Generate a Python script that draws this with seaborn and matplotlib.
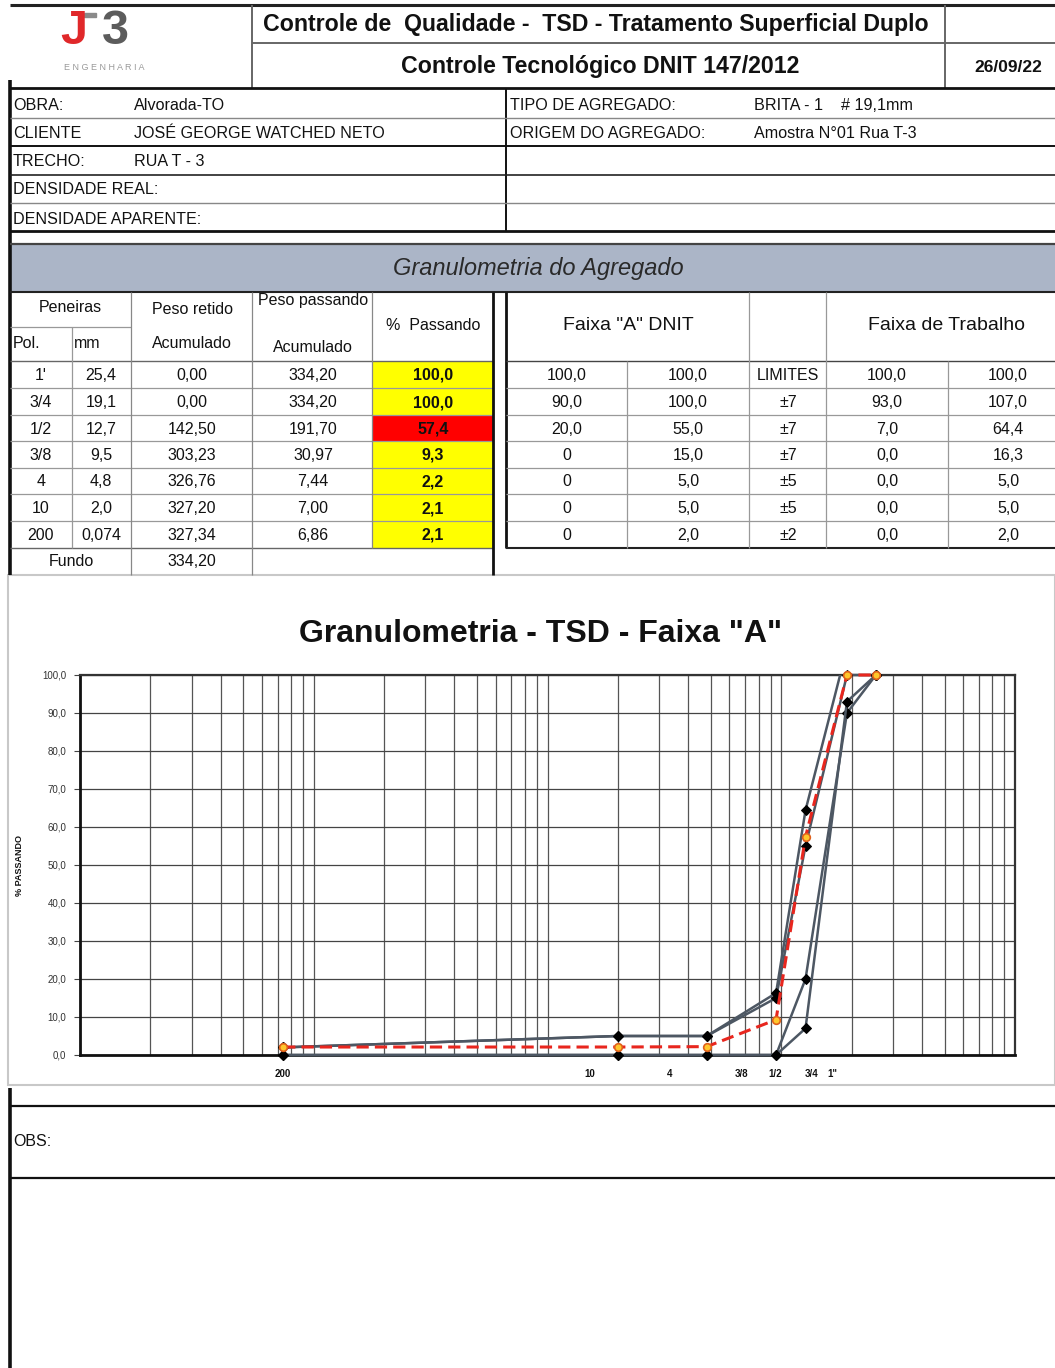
import numpy as np
import pandas as pd
import matplotlib
matplotlib.use("Agg")
import matplotlib.pyplot as plt
import seaborn as sns
from matplotlib.ticker import LogLocator, NullFormatter, FixedLocator, FixedFormatter
from matplotlib.patches import Rectangle

# ---------------- data ----------------
sieve_pol = ["1'", "3/4", "1/2", "3/8", "4", "10", "200"]
sieve_mm = [25.4, 19.1, 12.7, 9.5, 4.8, 2.0, 0.074]
sieve_mm_txt = ["25,4", "19,1", "12,7", "9,5", "4,8", "2,0", "0,074"]
peso_retido = [0.00, 0.00, 142.50, 303.23, 326.76, 327.20, 327.34]
peso_passando = [334.20, 334.20, 191.70, 30.97, 7.44, 7.00, 6.86]
pct_passando = [100.0, 100.0, 57.4, 9.3, 2.2, 2.1, 2.1]
fundo_retido = 334.20
faixa_a_min = [100.0, 90.0, 20.0, 0, 0, 0, 0]
faixa_a_max = [100.0, 100.0, 55.0, 15.0, 5.0, 5.0, 2.0]
limites = ["LIMITES", "±7", "±7", "±7", "±5", "±5", "±2"]
trab_min = [100.0, 93.0, 7.0, 0.0, 0.0, 0.0, 0.0]
trab_max = [100.0, 107.0, 64.4, 16.3, 5.0, 5.0, 2.0]
out_of_range = [False, False, True, False, False, False, False]

axis_label_pos = [0.074, 1.52, 3.34, 6.73, 9.4, 13.5, 16.5]
axis_label_txt = ["200", "10", "4", "3/8", "1/2", "3/4", '1"']
y_ticks = [0, 10, 20, 30, 40, 50, 60, 70, 80, 90, 100]

info_left = [("OBRA:", "Alvorada-TO"), ("CLIENTE", "JOSÉ GEORGE WATCHED NETO"),
             ("TRECHO:", "RUA T - 3"), ("DENSIDADE REAL:", ""), ("DENSIDADE APARENTE:", "")]
info_right = [("TIPO DE AGREGADO:", "BRITA - 1    # 19,1mm"),
              ("ORIGEM DO AGREGADO:", "Amostra N°01 Rua T-3")]


def br(v, d):
    return f"{v:.{d}f}".replace(".", ",")


def br0(v):
    return "0" if v == 0 else br(v, 1)


# ---------------- style ----------------
sns.set_theme(style="white")
plt.rcParams["font.family"] = ["Liberation Sans", "DejaVu Sans"]

W, H = 1055, 1368
fig = plt.figure(figsize=(W / 100, H / 100), dpi=100)
fig.patch.set_facecolor("white")
bg = fig.add_axes([0, 0, 1, 1], zorder=0)
bg.set_xlim(0, W)
bg.set_ylim(H, 0)
bg.axis("off")

TC = "#111111"


def hl(y, x0, x1, c="#777777", lw=1.0):
    bg.plot([x0, x1], [y, y], color=c, lw=lw, solid_capstyle="butt")


def vl(x, y0, y1, c="#777777", lw=1.0):
    bg.plot([x, x], [y0, y1], color=c, lw=lw, solid_capstyle="butt")


def tx(x, y, s, ha="left", size=11.5, **kw):
    kw.setdefault("color", TC)
    bg.text(x, y, s, ha=ha, va="center", fontsize=size, **kw)


# ---------------- header ----------------
hl(5, 10, W, "#222222", 2.2)
vl(252, 5, 88, "#666666", 1.4)
hl(43, 252, W, "#666666", 1.4)
vl(945, 5, 88, "#666666", 1.4)
hl(88, 10, W, "#111111", 2.0)
vl(10, 80, 575, "#111111", 2.6)
vl(10, 1088, H, "#111111", 2.6)

# logo
tx(60, 32, "J", size=35, weight="bold", color="#e0282a")
tx(102, 32, "3", size=35, weight="bold", color="#5c5c5c")
bg.add_patch(Rectangle((84, 13), 12, 4, color="#8a8a8a"))
tx(104, 67, "E N G E N H A R I A", ha="center", size=6.5, color="#9a9a9a")

tx(263, 24, "Controle de  Qualidade -  TSD - Tratamento Superficial Duplo", size=16.7, weight="bold")
tx(600, 66, "Controle Tecnológico DNIT 147/2012", ha="center", size=16.7, weight="bold")
tx(1008, 67, "26/09/22", ha="center", size=12.5, weight="bold")

# ---------------- info block ----------------
vl(506, 88, 231, "#111111", 1.4)
hl(118, 10, W, "#888888", 1.0)
hl(146, 10, W, "#111111", 1.4)
hl(175, 10, W, "#222222", 1.2)
hl(203, 10, W, "#888888", 1.0)
hl(231, 10, W, "#111111", 2.0)
row_y = [105, 133, 162, 190, 219]
for (lab, val), y in zip(info_left, row_y):
    tx(13, y, lab, size=11.6)
    if val:
        tx(134, y, val, size=11.6)
for (lab, val), y in zip(info_right, row_y):
    tx(510, y, lab, size=11.6)
    tx(754, y, val, size=11.6)

# ---------------- band ----------------
bg.add_patch(Rectangle((10, 244), W - 10, 48, facecolor="#abb5c7", edgecolor="none"))
hl(244, 10, W, "#444444", 1.6)
tx(538, 268, "Granulometria do Agregado", ha="center", size=17, style="italic", color="#2a2a2a")

# ---------------- tables ----------------
bounds = [361, 388, 415, 441, 468, 494, 521, 548]
centers = [(a + b) / 2 + 1 for a, b in zip(bounds[:-1], bounds[1:])]

# left table fills
for i, y0 in enumerate(bounds[:-1]):
    col = "#ff0000" if out_of_range[i] else "#ffff00"
    bg.add_patch(Rectangle((372, y0), 121, bounds[i + 1] - y0, facecolor=col, edgecolor="none"))

hl(292, 10, W, "#222222", 1.5)
hl(327, 10, 131, "#999999", 0.9)
hl(361, 10, 493, "#666666", 1.0)
for y in bounds[1:-1]:
    hl(y, 10, 493, "#999999", 0.9)
hl(548, 10, 493, "#666666", 1.0)
vl(72, 327, 548, "#999999", 0.9)
for x in (131, 252):
    vl(x, 292, 575, "#888888", 0.9)
vl(372, 292, 548, "#888888", 0.9)
vl(493, 292, 575, "#111111", 2.0)

tx(70, 307, "Peneiras", ha="center")
tx(13, 343, "Pol.")
tx(74, 343, "mm")
tx(192, 309, "Peso retido", ha="center")
tx(192, 343, "Acumulado", ha="center")
tx(313, 301, "Peso passando", ha="center")
tx(313, 348, "Acumulado", ha="center")
tx(433, 325, "%  Passando", ha="center")

for i, y in enumerate(centers):
    tx(41, y, sieve_pol[i], ha="center")
    tx(101, y, sieve_mm_txt[i], ha="center")
    tx(192, y, br(peso_retido[i], 2), ha="center")
    tx(313, y, br(peso_passando[i], 2), ha="center")
    tx(433, y, br(pct_passando[i], 1), ha="center", weight="bold")
tx(71, 562, "Fundo", ha="center")
tx(192, 562, br(fundo_retido, 2), ha="center")

# right table
vl(506, 292, 548, "#111111", 2.0)
hl(361, 506, W, "#444444", 1.0)
for y in bounds[1:-1]:
    hl(y, 506, W, "#999999", 0.9)
hl(548, 506, W, "#222222", 1.5)
vl(627, 361, 548, "#999999", 0.9)
vl(749, 292, 548, "#999999", 0.9)
vl(826, 292, 548, "#999999", 0.9)
vl(948, 361, 548, "#999999", 0.9)
tx(628, 326, 'Faixa "A" DNIT', ha="center", size=14)
tx(947, 326, "Faixa de Trabalho", ha="center", size=14)
for i, y in enumerate(centers):
    tx(567, y, br0(faixa_a_min[i]), ha="center")
    tx(688, y, br(faixa_a_max[i], 1), ha="center")
    tx(788, y, limites[i], ha="center")
    tx(887, y, br(trab_min[i], 1), ha="center")
    tx(1008, y, br(trab_max[i], 1), ha="center")

# chart frame + bottom
bg.add_patch(Rectangle((8, 575), W - 8, 510, facecolor="none", edgecolor="#c8c8c8", lw=1.5))
tx(541, 634, 'Granulometria - TSD - Faixa "A"', ha="center", size=23, weight="bold")
bg.text(20, 865, "% PASSANDO", rotation=90, ha="center", va="center", fontsize=6.5,
        weight="bold", color=TC)
hl(1106, 10, W, "#111111", 1.6)
tx(13, 1141, "OBS:", size=11.5)
hl(1178, 10, W, "#111111", 1.6)

# ---------------- chart ----------------
ax = fig.add_axes([80 / W, 1 - 1055 / H, 935 / W, 380 / H], zorder=2)
ax.set_facecolor("white")
ax.set_xscale("log")
ax.set_xlim(0.01, 100)
ax.set_ylim(0, 100)

band_series = [faixa_a_min, faixa_a_max, trab_min, trab_max]
for vals in band_series:
    clip = max(vals) > 100
    sns.lineplot(x=sieve_mm, y=vals, ax=ax, color="#4d5763", linewidth=1.8,
                 marker="D", markersize=5, markerfacecolor="black", markeredgecolor="black",
                 clip_on=clip, zorder=3)
sns.lineplot(x=sieve_mm, y=pct_passando, ax=ax, color="#e8261e", linewidth=2.2,
             linestyle=(0, (4, 2)), marker="o", markersize=5.5,
             markerfacecolor="#ffc72c", markeredgecolor="#e0601a", markeredgewidth=1.2,
             clip_on=False, zorder=4)

ax.xaxis.set_minor_locator(LogLocator(base=10, subs=np.arange(1, 10), numticks=100))
ax.xaxis.set_minor_formatter(NullFormatter())
ax.xaxis.set_major_locator(FixedLocator(axis_label_pos))
ax.xaxis.set_major_formatter(FixedFormatter(axis_label_txt))
ax.grid(False)
ax.grid(which="minor", axis="x", color="#555555", lw=0.9)
ax.grid(which="major", axis="y", color="#444444", lw=0.9)
ax.set_yticks(y_ticks)
ax.set_yticklabels([br(v, 1) for v in y_ticks])
ax.tick_params(axis="x", which="both", length=0, pad=10, labelsize=7, labelcolor=TC)
for lab in ax.get_xticklabels():
    lab.set_fontweight("bold")
ax.tick_params(axis="y", length=4, width=0.8, color="#444444", labelsize=7, pad=6, labelcolor="#333333",
               left=True)
ax.set_xlabel("")
ax.set_ylabel("")
for s in ("left", "bottom"):
    ax.spines[s].set_color("#111111")
    ax.spines[s].set_linewidth(2.0)
for s in ("top", "right"):
    ax.spines[s].set_color("#333333")
    ax.spines[s].set_linewidth(1.6)
    ax.spines[s].set_visible(True)

fig.savefig("out.png", dpi=100, facecolor="white")
